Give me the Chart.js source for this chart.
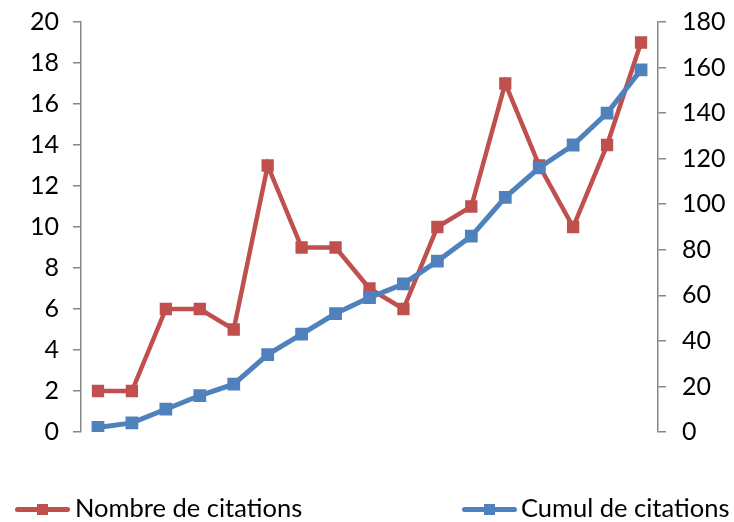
<!DOCTYPE html>
<html>
<head>
<meta charset="utf-8">
<script src="https://cdn.jsdelivr.net/npm/chart.js@4"></script>
<style>
  html, body { margin: 0; padding: 0; background: #fff; }
  #wrap { position: relative; width: 734px; height: 522px; }
  canvas { position: absolute; left: 0; top: 0; }
  .leg { position: absolute; font-family: Lato, "Open Sans", sans-serif; font-size: 25.5px; color: #000; line-height: 1; white-space: nowrap; }
  .mk { position: absolute; height: 5px; border-radius: 3px; }
  .sq { position: absolute; width: 11px; height: 11px; }
</style>
</head>
<body>
<div id="wrap">
  <canvas id="c" width="734" height="522"></canvas>
  <div class="mk" style="left:15px;top:507px;width:55px;background:#C0504D"></div>
  <div class="sq" style="left:37px;top:504px;background:#C0504D"></div>
  <div class="leg" style="left:75px;top:495px">Nombre de citations</div>
  <div class="mk" style="left:462px;top:507px;width:55px;background:#4F81BD"></div>
  <div class="sq" style="left:484px;top:504px;background:#4F81BD"></div>
  <div class="leg" style="left:521px;top:495px">Cumul de citations</div>
</div>
<script>
const categories = ["1","2","3","4","5","6","7","8","9","10","11","12","13","14","15","16","17"];
const nombreCitations = [2, 2, 6, 6, 5, 13, 9, 9, 7, 6, 10, 11, 17, 13, 10, 14, 19];
const cumulCitations = [2, 4, 10, 16, 21, 34, 43, 52, 59, 65, 75, 86, 103, 116, 126, 140, 159];
const seriesNames = ["Nombre de citations", "Cumul de citations"];

const red = "#C0504D", blue = "#4F81BD", axisGray = "#868686";
const tickFont = { family: "Lato, 'Open Sans', sans-serif", size: 25 };

function fixAxis(width) {
  return s => { s.width = width; s.paddingTop = 0; s.paddingBottom = 0; };
}

new Chart(document.getElementById("c"), {
  type: "line",
  data: {
    labels: categories,
    datasets: [
      { label: seriesNames[0], data: nombreCitations, yAxisID: "y", borderColor: red, backgroundColor: red,
        borderWidth: 4.5, pointStyle: "rect", pointRadius: 5.5, pointHoverRadius: 5.5, tension: 0, order: 1 },
      { label: seriesNames[1], data: cumulCitations, yAxisID: "y1", borderColor: blue, backgroundColor: blue,
        borderWidth: 5, pointStyle: "rect", pointRadius: 5.5, pointHoverRadius: 5.5, tension: 0, order: 0 }
    ]
  },
  options: {
    responsive: false,
    animation: false,
    devicePixelRatio: 1,
    layout: { padding: { top: 22, bottom: 90, left: 0, right: 0 } },
    plugins: { legend: { display: false }, tooltip: { enabled: false } },
    scales: {
      x: { display: false, offset: true },
      y: {
        position: "left", min: 0, max: 20,
        ticks: { stepSize: 2, color: "#000", font: tickFont, padding: 14 },
        grid: { drawOnChartArea: false, color: axisGray, tickLength: 8, lineWidth: 1.5 },
        border: { color: axisGray, width: 1.5 },
        afterFit: fixAxis(81)
      },
      y1: {
        position: "right", min: 0, max: 180,
        ticks: { stepSize: 20, color: "#000", font: tickFont, padding: 16 },
        grid: { drawOnChartArea: false, color: axisGray, tickLength: 8, lineWidth: 1.5 },
        border: { color: axisGray, width: 1.5 },
        afterFit: fixAxis(76)
      }
    }
  }
});
</script>
</body>
</html>
